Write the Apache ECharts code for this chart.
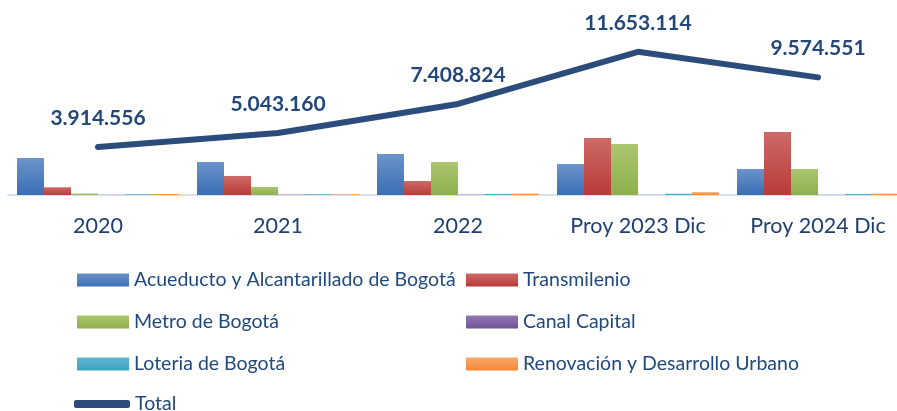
<!DOCTYPE html>
<html>
<head>
<meta charset="utf-8">
<script src="https://cdn.jsdelivr.net/npm/echarts@6/dist/echarts.min.js"></script>
<style>
  html, body { margin: 0; padding: 0; background: #fff; }
  #chart { width: 897px; height: 411px; }
</style>
</head>
<body>
<div id="chart"></div>
<script>
// millions of pesos
var categories = ['2020', '2021', '2022', 'Proy 2023 Dic', 'Proy 2024 Dic']
var acueducto = [3.02, 2.69, 3.34, 2.52, 2.12]
var transmilenio = [0.63, 1.55, 1.14, 4.64, 5.13]
var metro = [0.12, 0.65, 2.69, 4.15, 2.12]
var canal = [0.01, 0.03, 0.03, 0.01, 0.01]
var loteria = [0.06, 0.06, 0.09, 0.1, 0.08]
var renovacion = [0.08, 0.06, 0.11, 0.23, 0.11]
var total = [3914556, 5043160, 7408824, 11653114, 9574551]

var chart = echarts.init(document.getElementById('chart'))

function grad (top, bottom) {
  return new echarts.graphic.LinearGradient(0, 0, 0, 1, [
    {offset: 0, color: top},
    {offset: 1, color: bottom}
  ])
}

function barSeries (name, data, top, bottom) {
  return {
    name: name,
    type: 'bar',
    data: data,
    barGap: 0,
    barCategoryGap: '10%',
    itemStyle: {color: grad(top, bottom)}
  }
}

var legendText = {fontFamily: 'Lato', fontSize: 19.5, color: '#1f497d'}

var option = {
  animation: false,
  grid: {left: 8, width: 900, top: 23, bottom: 216, outerBoundsMode: 'none', containLabel: false},
  xAxis: {
    type: 'category',
    data: categories,
    axisLine: {lineStyle: {color: '#d6e0ef', width: 2}},
    axisTick: {show: false},
    axisLabel: {fontFamily: 'Lato', fontSize: 21.5, color: '#1f3f6f', margin: 20}
  },
  yAxis: {type: 'value', min: 0, max: 14, show: false, splitLine: {show: false}},
  legend: [
    {
      orient: 'vertical', left: 77, top: 270, itemGap: 22, padding: 0,
      itemWidth: 52, itemHeight: 13, textStyle: legendText,
      data: [
        {name: 'Acueducto y Alcantarillado de Bogotá', icon: 'rect'},
        {name: 'Metro de Bogotá', icon: 'rect'},
        {name: 'Loteria de Bogotá', icon: 'rect'}
      ]
    },
    {
      orient: 'vertical', left: 466, top: 270, itemGap: 22, padding: 0,
      itemWidth: 52, itemHeight: 13, textStyle: legendText,
      data: [
        {name: 'Transmilenio', icon: 'rect'},
        {name: 'Canal Capital', icon: 'rect'},
        {name: 'Renovación y Desarrollo Urbano', icon: 'rect'}
      ]
    },
    {
      left: 74, top: 394, itemWidth: 56, itemHeight: 8, itemGap: 0, padding: 0,
      textStyle: legendText,
      data: [{name: 'Total', icon: 'roundRect'}]
    }
  ],
  series: [
    barSeries('Acueducto y Alcantarillado de Bogotá', acueducto, '#6c93cb', '#3b6eb4'),
    barSeries('Transmilenio', transmilenio, '#cd6a68', '#b83b38'),
    barSeries('Metro de Bogotá', metro, '#aac66f', '#8db04b'),
    barSeries('Canal Capital', canal, '#9379b4', '#6f5296'),
    barSeries('Loteria de Bogotá', loteria, '#62b9d2', '#3aa1bd'),
    barSeries('Renovación y Desarrollo Urbano', renovacion, '#f9a867', '#f5883a'),
    {
      name: 'Total',
      type: 'line',
      data: total.map(function (v) { return v / 1e6 }),
      symbol: 'circle',
      symbolSize: 1,
      showSymbol: true,
      lineStyle: {color: '#2c4d7b', width: 6, cap: 'round', join: 'round'},
      itemStyle: {color: '#2c4d7b'},
      label: {
        show: true,
        position: 'top',
        distance: 18,
        fontFamily: 'Lato',
        fontWeight: 'bold',
        fontSize: 21,
        color: '#24477a',
        formatter: function (p) {
          return total[p.dataIndex].toString().replace(/\B(?=(\d{3})+(?!\d))/g, '.')
        }
      },
      z: 5
    }
  ]
}

chart.setOption(option)
</script>
</body>
</html>
